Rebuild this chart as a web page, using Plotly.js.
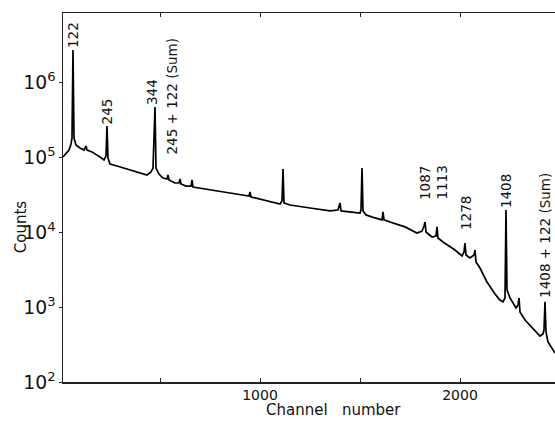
<!DOCTYPE html>
<html>
<head>
<meta charset="utf-8">
<script src="https://cdn.plot.ly/plotly-3.0.1.min.js"></script>
<style>html,body{margin:0;padding:0;background:#fff;}#chart{width:555px;height:425px;}</style>
</head>
<body>
<div id="chart"></div>
<script>
// Spectrum: channel number and counts
const channels = [15,30,45,55,60,65,70,80,100,120,130,135,160,200,220,230,235,240,250,285,350,435,455,465,475,480,495,515,535,540,545,575,595,600,605,630,655,660,665,700,750,850,945,950,955,1000,1050,1100,1110,1115,1120,1150,1250,1350,1390,1400,1405,1450,1500,1505,1510,1515,1530,1575,1610,1615,1620,1650,1725,1785,1810,1820,1825,1830,1860,1880,1885,1890,1915,1975,2010,2020,2025,2030,2050,2070,2075,2080,2100,2135,2175,2200,2215,2225,2230,2235,2250,2280,2290,2295,2300,2325,2360,2400,2415,2420,2425,2430,2440,2460,2475];
const counts = [100000,110000,124000,149000,179000,2670000,179000,145000,132000,124000,140000,124000,117000,100000,91200,103000,259000,97000,80700,75900,67100,57500,63100,71300,464000,71300,59300,52500,50900,57500,49400,45000,45000,50900,43700,41000,41000,49400,39800,38600,36300,33100,30200,34100,29300,27500,25100,23600,25900,69200,24400,22900,20900,19100,19600,24400,19100,18500,17900,19600,71300,19100,16900,15400,14500,18500,14500,13600,11700,9700,10300,12000,13600,10000,8580,8850,11700,8320,7360,5750,4790,5410,7130,4940,4500,4940,5750,3980,3310,2150,1490,1240,1170,1320,19600,1690,1320,970,1060,1320,858,671,525,410,437,494,1170,464,341,275,244];

// Peak labels (text, channel, counts at the label foot)
const peakLabels = ["122","245","344","245 + 122 (Sum)","1087","1113","1278","1408","1408 + 122 (Sum)"];
const peakChannels = [65,237,460,555,1825,1908,2030,2230,2427];
const peakCounts = [2670000,259000,464000,100000,25100,25100,10000,19600,1240];

// Axis ticks
const xTickVals = [500,1000,1500,2000];
const xTickText = ["","1000","","2000"];
const xRange = [15,2475];
const yRangeLog = [2,6.92];

const annotations = peakLabels.map((t,i)=>({
  text:t, x:peakChannels[i], y:Math.log10(peakCounts[i]), xref:'x', yref:'y',
  showarrow:false, textangle:-90, xanchor:'center', yanchor:'bottom',
  font:{family:'DejaVu Sans', size:13.5, color:'#111'}, borderpad:1
}));
annotations.push({text:'Counts', xref:'paper', yref:'paper', x:-0.085, y:0.42,
  showarrow:false, textangle:-90, xanchor:'center', yanchor:'middle',
  font:{family:'DejaVu Sans', size:15, color:'#111'}});
annotations.push({text:'Channel&nbsp;&nbsp;&nbsp;number', xref:'paper', yref:'paper', x:0.549, y:-0.076,
  showarrow:false, xanchor:'center', yanchor:'middle',
  font:{family:'DejaVu Sans', size:15, color:'#111'}});

const trace = {x:channels, y:counts, type:'scatter', mode:'lines',
  line:{color:'#000', width:1.7}, hoverinfo:'skip'};

const layout = {
  width:555, height:425,
  margin:{l:63, r:0, t:13, b:43},
  paper_bgcolor:'#fff', plot_bgcolor:'#fff',
  font:{family:'DejaVu Sans', size:14, color:'#111'},
  showlegend:false,
  xaxis:{range:xRange, tickvals:xTickVals, ticktext:xTickText, ticks:'inside', ticklen:4,
    tickcolor:'#222', showline:true, linecolor:'#222', linewidth:1.5, mirror:'ticks',
    showgrid:false, zeroline:false, tickfont:{size:14}},
  yaxis:{type:'log', range:yRangeLog, dtick:1, exponentformat:'power', ticks:'outside', ticklen:3,
    tickcolor:'#222', showline:true, linecolor:'#222', linewidth:1.5,
    showgrid:false, zeroline:false, tickfont:{size:15}},
  annotations:annotations
};
Plotly.newPlot('chart',[trace],layout,{staticPlot:true, displayModeBar:false});
</script>
</body>
</html>
